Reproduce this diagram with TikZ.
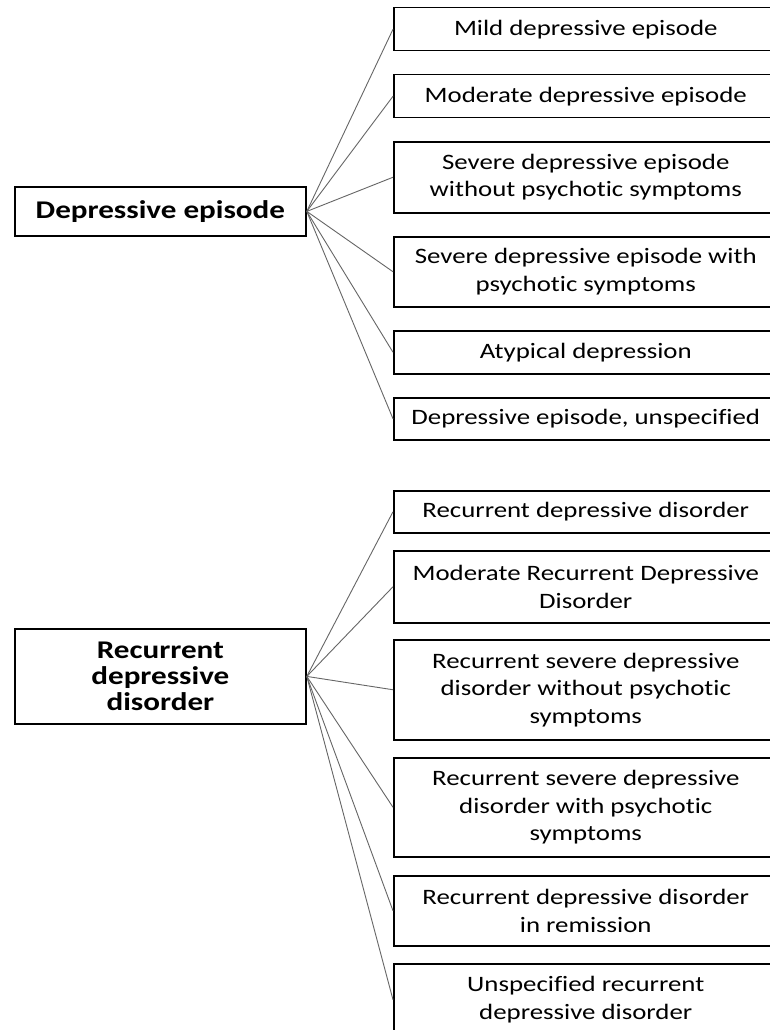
\documentclass[tikz,border=0pt]{standalone}
\usepackage{fontspec}
\setmainfont[FakeStretch=1.22,Ligatures=NoCommon]{Carlito}
\begin{document}
\begin{tikzpicture}[x=1pt,y=-1pt,
  leaf/.style={draw=black, line width=1.5pt, anchor=north west, minimum width=384pt,
    inner sep=2pt, align=center, font=\fontsize{22}{27.5}\selectfont},
  parent/.style={draw=black, line width=1.8pt, anchor=north west, minimum width=291pt,
    inner sep=2pt, align=center, font=\fontsize{25.5}{26}\selectfont\bfseries},
  link/.style={draw=black!60, line width=0.9pt}]
\clip (0,0) rectangle (770,1030);
\fill[white] (0,0) rectangle (770,1030);
% first group
\node[parent, minimum height=49pt] (p1) at (14,186) {Depressive episode};
\node[leaf, minimum height=43pt] (a1) at (393,7) {Mild depressive episode};
\node[leaf, minimum height=43pt] (a2) at (393,74) {Moderate depressive episode};
\node[leaf, minimum height=71pt] (a3) at (393,141) {Severe depressive episode\\without psychotic symptoms};
\node[leaf, minimum height=70pt] (a4) at (393,236) {Severe depressive episode with\\psychotic symptoms};
\node[leaf, minimum height=43pt] (a5) at (393,330) {Atypical depression};
\node[leaf, minimum height=42pt] (a6) at (393,397) {Depressive episode, unspecified};
\foreach \n in {a1,a2,a3,a4,a5,a6} \draw[link] (p1.east) -- (\n.west);
% second group
\node[parent, minimum height=95pt] (p2) at (14,628) {Recurrent\\depressive\\disorder};
\node[leaf, minimum height=42pt] (b1) at (393,490) {Recurrent depressive disorder};
\node[leaf, minimum height=72pt] (b2) at (393,550) {Moderate Recurrent Depressive\\Disorder};
\node[leaf, minimum height=100pt] (b3) at (393,639) {Recurrent severe depressive\\disorder without psychotic\\symptoms};
\node[leaf, minimum height=99pt] (b4) at (393,757) {Recurrent severe depressive\\disorder with psychotic\\symptoms};
\node[leaf, minimum height=70pt] (b5) at (393,875) {Recurrent depressive disorder\\in remission};
\node[leaf, minimum height=72pt] (b6) at (393,963) {Unspecified recurrent\\depressive disorder};
\foreach \n in {b1,b2,b3,b4,b5,b6} \draw[link] (p2.east) -- (\n.west);
\end{tikzpicture}
\end{document}
